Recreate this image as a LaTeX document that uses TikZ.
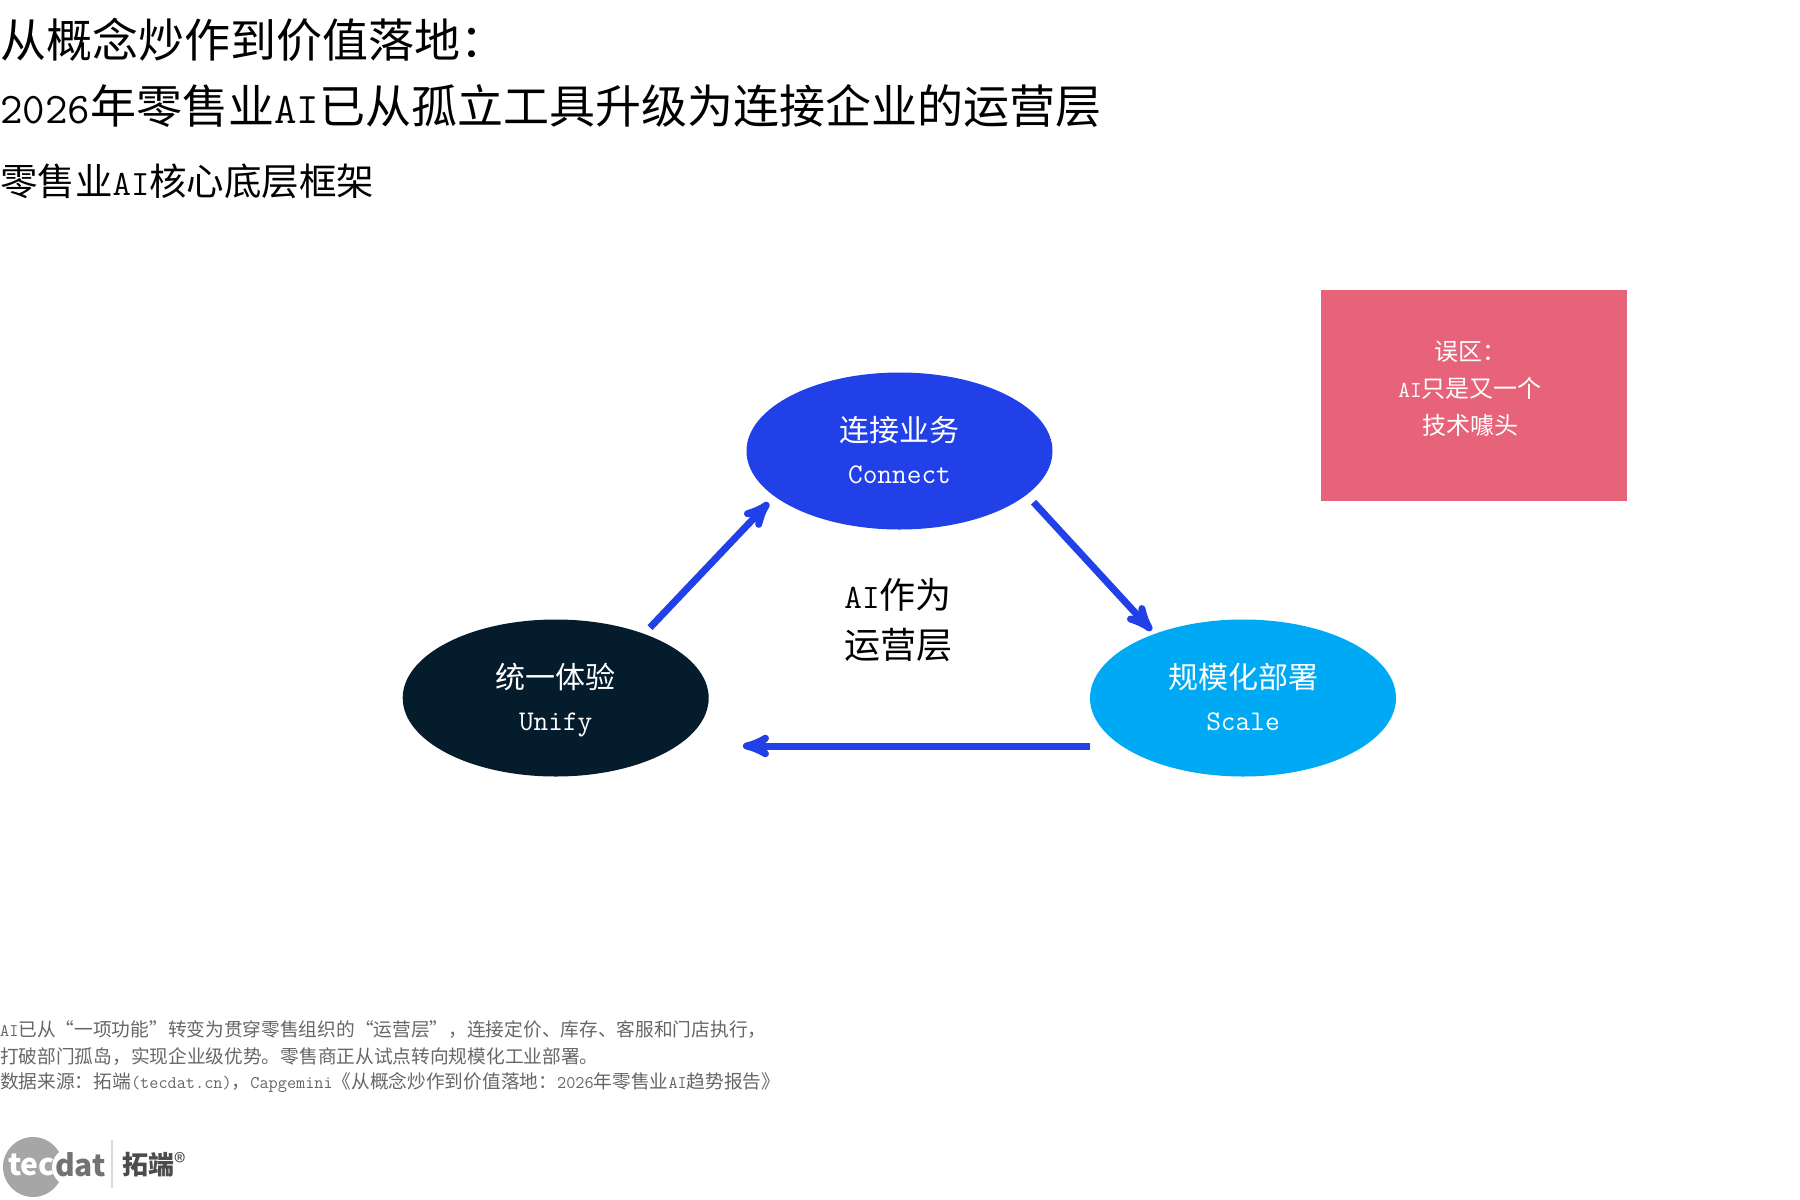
\documentclass[tikz,border=0pt]{standalone}
\usepackage{fontspec}
\setmainfont{Noto Sans CJK SC}
\setmonofont[Scale=0.95]{Latin Modern Mono}
\usepackage{tikz}
\usetikzlibrary{arrows,shapes}

\definecolor{flowblue}{HTML}{2140E8}
\definecolor{skyblue}{HTML}{00A9F4}
\definecolor{darknavy}{HTML}{051C2C}
\definecolor{warnred}{HTML}{E6637A}
\definecolor{notegray}{HTML}{666666}
\newcommand{\lat}[1]{{\ttfamily #1}}
\newcommand{\fs}[2]{\fontsize{#1}{#2}\selectfont}
\newcommand{\pillartop}{\rule{0pt}{30pt}}
\newcommand{\pillarend}{\vphantom{y}}
\newcommand{\wcolon}{^^^^ff1a}
\newcommand{\wcomma}{^^^^ff0c}

\begin{document}
\begin{tikzpicture}[x=1pt,y=-1pt,>=stealth',
every node/.style={inner sep=0pt},
titletext/.style={anchor=west,text=black},
notetext/.style={anchor=west,text=notegray,font=\fs{18.7}{24}},
pillar/.style={ellipse,minimum width=306pt,minimum height=157pt,text=white,
align=center,font=\fs{30}{42}},
flow/.style={->,draw=flowblue,line width=7pt}]
\useasboundingbox (0,0) rectangle (1800,1200);

% heading
\node[titletext,font=\fs{46}{56}] (title1) at (0,40) {从概念炒作到价值落地\wcolon};
\node[titletext,font=\fs{46}{56}] (title2) at (0,106) {\lat{2026}年零售业\lat{AI}已从孤立工具升级为连接企业的运营层};
\node[titletext,font=\fs{37.5}{46}] (title3) at (0,181) {零售业\lat{AI}核心底层框架};

% three pillars
\node[pillar,fill=flowblue] (connect) at (899.5,451) {\pillartop 连接业务\\\lat{Connect}\pillarend};
\node[pillar,fill=darknavy] (unify) at (555.7,698) {\pillartop 统一体验\\\lat{Unify}\pillarend};
\node[pillar,fill=skyblue] (scale) at (1243,698) {\pillartop 规模化部署\\\lat{Scale}\pillarend};
\node[align=center,text=black,font=\fs{36}{50}] (core) at (898,620) {\lat{AI}作为\\运营层};

\node[rectangle,fill=warnred,minimum width=305.5pt,minimum height=211pt] (myth) at (1474,395) {};
\node[align=center,text=white,font=\fs{24}{37}] (mythtext) at (1470,389) {误区\wcolon\\\lat{AI}只是又一个\\技术噱头};

\coordinate (scalefoot) at ([yshift=-48pt]scale.west);
\coordinate (unifyfoot) at ([xshift=34pt,yshift=-48pt]unify.east);
\path
(unify.36) edge[flow,shorten <=8.5pt,shorten >=8.5pt] (connect.200)
(connect.-19) edge[flow,shorten <=10pt,shorten >=4.5pt] (scale.144)
(scalefoot) edge[flow] (unifyfoot);

% footnote
\node[notetext] (note1) at (0,1029.5) {\lat{AI}已从“一项功能”转变为贯穿零售组织的“运营层”\wcomma 连接定价、库存、客服和门店执行\wcomma};
\node[notetext] (note2) at (0,1056.5) {打破部门孤岛\wcomma 实现企业级优势。零售商正从试点转向规模化工业部署。};
\node[notetext] (note3) at (0,1083) {数据来源\wcolon 拓端\lat{(tecdat.cn)}\wcomma\lat{Capgemini}《从概念炒作到价值落地\wcolon\lat{2026}年零售业\lat{AI}趋势报告》};

% logo
\node[circle,fill=black!35,minimum size=60pt] (logodisc) at (33,1167) {};
\node[circle,fill=white,minimum size=38pt] (logobite) at (71,1167) {};
\node[anchor=east,text=white,font=\fs{30}{32}\bfseries] (logotec) at (55,1165) {tec};
\node[anchor=west,text=black!55,font=\fs{30}{32}\bfseries] (logodat) at (55,1165) {dat};
\node[minimum width=1.5pt,minimum height=48pt,fill=black!15] (logobar) at (112,1164) {};
\node[anchor=west,text=black!70,font=\fs{26}{30}\bfseries] (logoname) at (122,1165) {拓端};
\node[anchor=west,text=black!70,font=\fs{24}{26}] (logomark) at (174,1162) {®};
\end{tikzpicture}
\end{document}
